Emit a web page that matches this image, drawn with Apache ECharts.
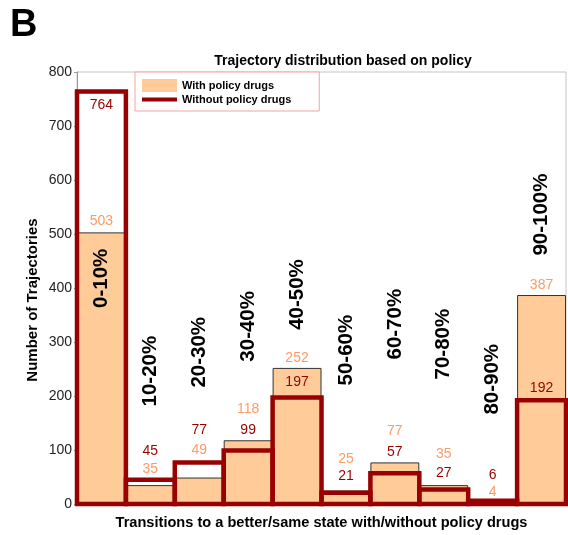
<!DOCTYPE html>
<html>
<head>
<meta charset="utf-8">
<script src="https://cdn.jsdelivr.net/npm/echarts@6/dist/echarts.min.js"></script>
<style>html,body{margin:0;padding:0;background:#fff;}#chart{width:568px;height:535px;}</style>
</head>
<body>
<div id="chart"></div>
<script>
// ---- data ----
const categories = ['0-10%','10-20%','20-30%','30-40%','40-50%','50-60%','60-70%','70-80%','80-90%','90-100%'];
const withPolicy = [503, 35, 49, 118, 252, 25, 77, 35, 4, 387];
const withoutPolicy = [764, 45, 77, 99, 197, 21, 57, 27, 6, 192];
const yTicks = [0, 100, 200, 300, 400, 500, 600, 700, 800];

// ---- annotation placement (layout only: px lifts and axis-unit heights) ----
const fillLabelLift = [11, 16, 27, 31, 10, 31, 31, 31, 10, 10];
const redLabelLift = [-14, 29, 32, 20, 15, 17, 21, 16, 26, 12];
const rangeLabelHeight = [418, 246, 281, 329, 388, 285, 333, 296, 231, 536];

const FONT = "'Liberation Sans', Arial, sans-serif";
const PEACH = '#FFCC99';
const DARKRED = '#990000';
const SALMON = '#FF9966';

const chart = echarts.init(document.getElementById('chart'), null, {renderer: 'canvas'});

function renderOutline(params, api) {
  const idx = api.value(0);
  const v = api.value(1);
  const base = api.coord([idx, 0]);
  const top = api.coord([idx, v]);
  const w = api.size([1, 0])[0];
  const lift = redLabelLift[params.dataIndex];
  return {
    type: 'group',
    children: [
      {type: 'rect', shape: {x: base[0] - w / 2, y: top[1], width: w, height: base[1] - top[1]},
       style: {fill: 'none', stroke: DARKRED, lineWidth: 4.5}},
      {type: 'text', x: base[0], y: top[1] - lift,
       style: {text: String(v), fill: DARKRED, font: '14px ' + FONT, align: 'center', verticalAlign: 'middle'}}
    ]
  };
}

function renderRange(params, api) {
  const p = api.coord([api.value(0), api.value(1)]);
  return {
    type: 'text', x: p[0], y: p[1], rotation: Math.PI / 2,
    style: {text: categories[params.dataIndex], fill: '#000', font: 'bold 20.5px ' + FONT, align: 'center', verticalAlign: 'middle'}
  };
}

const option = {
  animation: false,
  textStyle: {fontFamily: FONT},
  grid: {left: 77, right: 2, top: 72, bottom: 30, show: true, borderColor: '#c4c4c4', borderWidth: 1, containLabel: false},
  graphic: [
    {type: 'text', left: 10, top: 7, style: {text: 'B', font: 'bold 38px ' + FONT, fill: '#000'}},
    {type: 'text', x: 343, y: 61, style: {text: 'Trajectory distribution based on policy', font: 'bold 14px ' + FONT, fill: '#000', align: 'center', verticalAlign: 'middle'}},
    {type: 'text', x: 33, y: 300, rotation: Math.PI / 2,
     style: {text: 'Number of Trajectories', font: 'bold 15px ' + FONT, fill: '#000', align: 'center', verticalAlign: 'middle'}}
  ],
  legend: {
    left: 135, top: 72, orient: 'vertical',
    padding: [7, 28, 6, 7], itemGap: 2, itemWidth: 35, itemHeight: 13,
    borderColor: '#F4A3A3', borderWidth: 1, backgroundColor: '#fff',
    textStyle: {fontFamily: FONT, fontWeight: 'bold', fontSize: 11, color: '#000'},
    data: [
      {name: 'With policy drugs', icon: 'rect', itemStyle: {color: PEACH, borderWidth: 0}},
      {name: 'Without policy drugs', icon: 'path://M0,0 L35,0 L35,4 L0,4 Z', itemStyle: {color: DARKRED, borderWidth: 0}}
    ]
  },
  xAxis: {
    type: 'category', data: categories,
    axisLabel: {show: false}, axisTick: {show: false},
    axisLine: {lineStyle: {color: '#999'}},
    name: 'Transitions to a better/same state with/without policy drugs',
    nameLocation: 'middle', nameGap: 11,
    nameTextStyle: {fontFamily: FONT, fontWeight: 'bold', fontSize: 14.6, color: '#000', verticalAlign: 'top'}
  },
  yAxis: {
    type: 'value', min: yTicks[0], max: yTicks[yTicks.length - 1], interval: yTicks[1] - yTicks[0],
    splitLine: {show: false},
    axisLine: {show: true, lineStyle: {color: '#999'}},
    axisTick: {show: true, inside: false, length: 3, lineStyle: {color: '#999'}},
    axisLabel: {fontFamily: FONT, fontSize: 14, color: '#222', margin: 5}
  },
  series: [
    {
      name: 'With policy drugs', type: 'bar', barCategoryGap: '0%', z: 2,
      itemStyle: {color: PEACH, borderColor: '#333', borderWidth: 1},
      data: withPolicy.map((v, i) => ({
        value: v,
        label: {show: true, position: 'top', distance: 0, verticalAlign: 'middle', offset: [0, -fillLabelLift[i]],
                color: SALMON, fontSize: 14, fontFamily: FONT}
      }))
    },
    {
      name: 'Without policy drugs', type: 'custom', z: 3, clip: false,
      renderItem: renderOutline,
      encode: {x: 0, y: 1},
      itemStyle: {color: DARKRED},
      data: withoutPolicy.map((v, i) => [i, v])
    },
    {
      name: 'ranges', type: 'custom', z: 4, silent: true, clip: false,
      renderItem: renderRange,
      encode: {x: 0, y: 1},
      data: categories.map((c, i) => [i, rangeLabelHeight[i]])
    }
  ]
};
chart.setOption(option);
</script>
</body>
</html>
